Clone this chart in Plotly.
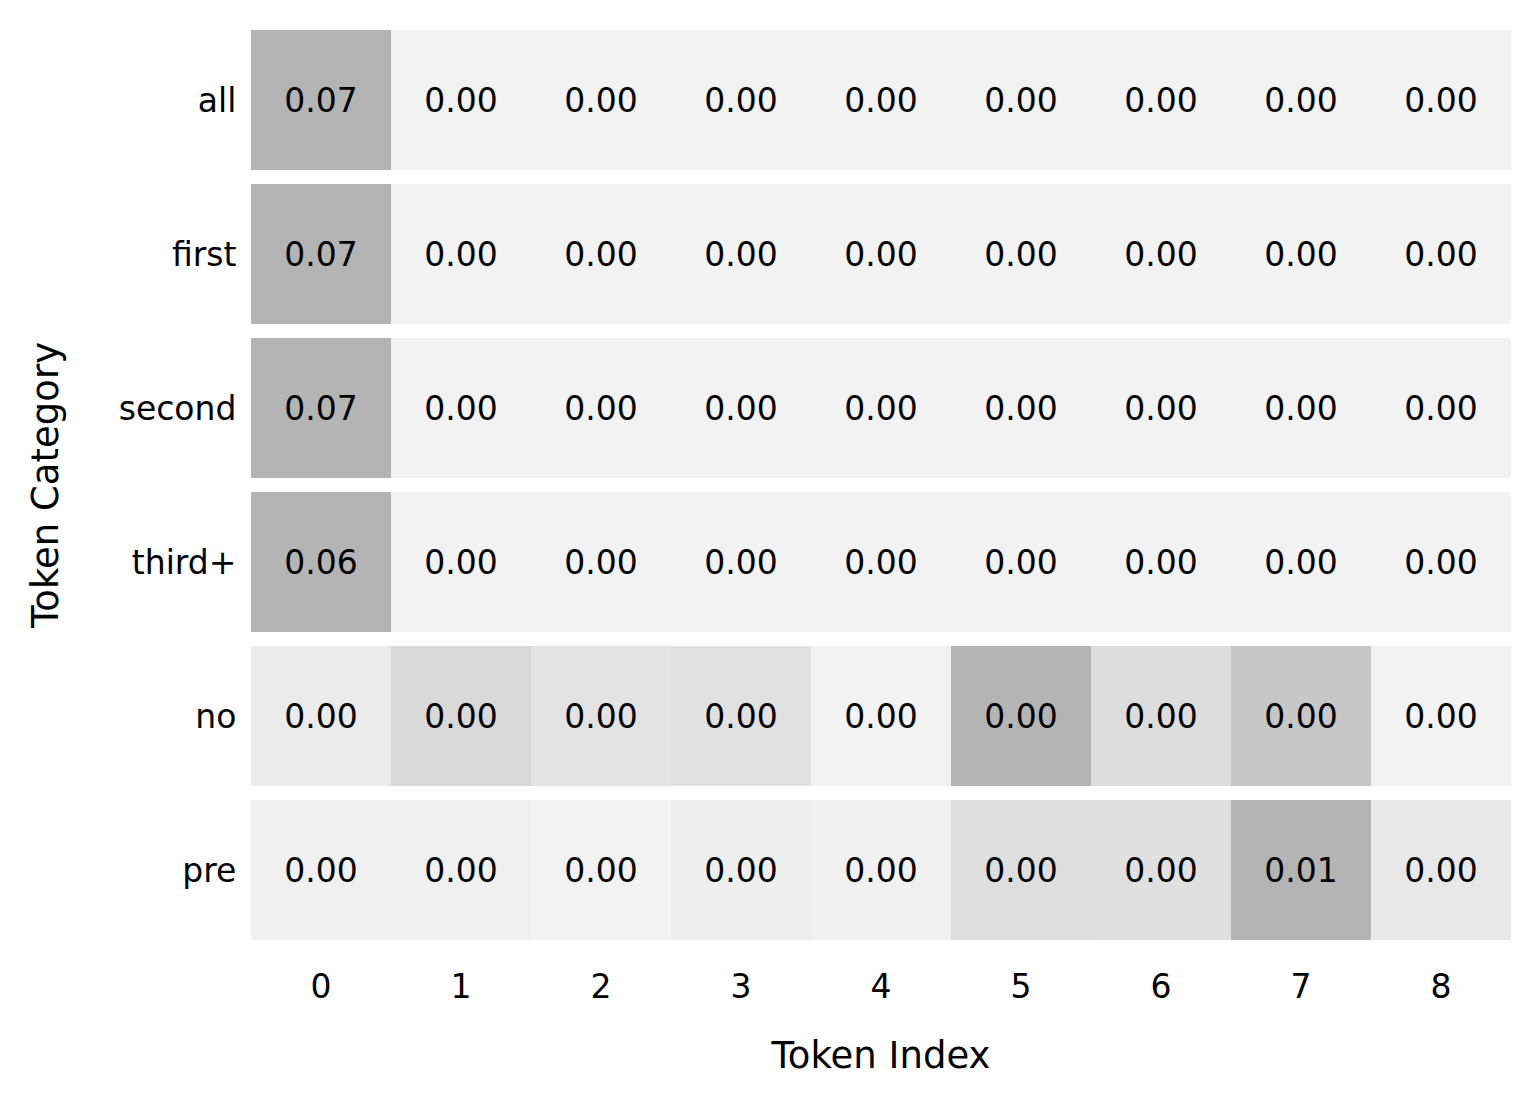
import numpy as np
import plotly.graph_objects as go

categories = ["all", "first", "second", "third+", "no", "pre"]
token_index = [0, 1, 2, 3, 4, 5, 6, 7, 8]

# mean attention per token index, one list per category
all_vals = [0.0712, 0.0001, 0.0001, 0.0001, 0.0001, 0.0001, 0.0001, 0.0001, 0.0001]
first_vals = [0.0705, 0.0001, 0.0001, 0.0001, 0.0001, 0.0001, 0.0001, 0.0001, 0.0001]
second_vals = [0.0698, 0.0001, 0.0001, 0.0001, 0.0001, 0.0001, 0.0001, 0.0001, 0.0001]
third_vals = [0.0631, 0.0001, 0.0001, 0.0001, 0.0001, 0.0001, 0.0001, 0.0001, 0.0001]
no_vals = [0.0005, 0.0018, 0.0011, 0.0012, 0.0000, 0.0045, 0.0015, 0.0031, 0.0000]
pre_vals = [0.0003, 0.0003, 0.0000, 0.0007, 0.0002, 0.0034, 0.0031, 0.0105, 0.0017]

raw = np.array([all_vals, first_vals, second_vals, third_vals, no_vals, pre_vals])

# each row gets its own colour range
mins = raw.min(axis=1, keepdims=True)
maxs = raw.max(axis=1, keepdims=True)
z = (raw - mins) / (maxs - mins)
text = [[f"{v:.2f}" for v in row] for row in raw]

font = "DejaVu Sans"

fig = go.Figure(go.Heatmap(
    z=z,
    x=token_index,
    y=categories,
    text=text,
    texttemplate="%{text}",
    textfont=dict(family=font, size=33, color="black"),
    colorscale=[[0, "#f2f2f2"], [1, "#b4b4b4"]],
    zmin=0, zmax=1,
    showscale=False,
    ygap=14,
    xgap=0,
    hoverinfo="skip",
))

fig.update_layout(
    width=1540, height=1106,
    margin=dict(l=243, r=37, t=15, b=167),
    plot_bgcolor="white",
    paper_bgcolor="white",
    font=dict(family=font, size=33, color="black"),
)
fig.update_xaxes(
    title=dict(text="Token Index", font=dict(size=37), standoff=37),
    tickmode="array", tickvals=token_index,
    ticks="outside", ticklen=10, tickcolor="white",
    showgrid=False, zeroline=False, showline=False,
)
fig.update_yaxes(
    title=dict(text="Token Category", font=dict(size=37), standoff=48),
    autorange="reversed",
    ticks="outside", ticklen=7, tickcolor="white",
    showgrid=False, zeroline=False, showline=False,
)

fig.write_html("out.html")
